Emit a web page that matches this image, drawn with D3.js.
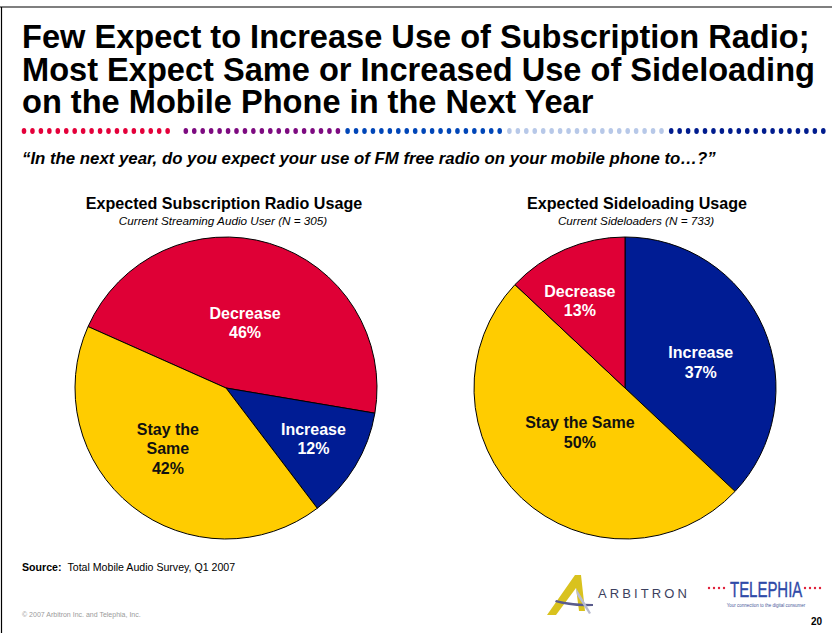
<!DOCTYPE html>
<html>
<head>
<meta charset="utf-8">
<script src="https://cdn.jsdelivr.net/npm/d3@7/dist/d3.min.js"></script>
<style>
  html, body { margin: 0; padding: 0; background: #fff; }
  svg { display: block; font-family: Arial, "Liberation Sans", Helvetica, sans-serif; }
</style>
</head>
<body>
<svg id="slide" width="832" height="633"></svg>
<script>
// ---- data ----
const categories = ["Decrease", "Increase", "Stay the Same"];
const subscriptionValues = [46, 12, 42];   // Current Streaming Audio User (N = 305)
const sideloadingValues = [13, 37, 50];    // Current Sideloaders (N = 733)

const titleLines = [
  "Few Expect to Increase Use of Subscription Radio;",
  "Most Expect Same or Increased Use of Sideloading",
  "on the Mobile Phone in the Next Year"
];
const question = "\u201CIn the next year, do you expect your use of FM free radio on your mobile phone to\u2026?\u201D";
const chartTitles = ["Expected Subscription Radio Usage", "Expected Sideloading Usage"];
const chartSubtitles = ["Current Streaming Audio User (N = 305)", "Current Sideloaders (N = 733)"];

// ---- styling / layout ----
const sliceColor = { "Decrease": "#DF0036", "Increase": "#001C94", "Stay the Same": "#FFCC00" };
const labelColor = { "Decrease": "#fff", "Increase": "#fff", "Stay the Same": "#111" };
const dotColors = ["#E4003A", "#7D0A80", "#0046B8", "#B7C8E8", "#001C8E"];

const pies = [
  {
    values: subscriptionValues, cx: 226, cy: 388, r: 151,
    order: ["Decrease", "Increase", "Stay the Same"], startDeg: -66,
    labelLines: { "Decrease": ["Decrease"], "Increase": ["Increase"], "Stay the Same": ["Stay the", "Same"] },
    labelPos: { "Decrease": { f: 0.45, da: -0.5 }, "Increase": { f: 0.67, da: -1 }, "Stay the Same": { f: 0.555, da: 5.5 } },
    titleX: 224
  },
  {
    values: sideloadingValues, cx: 625, cy: 388, r: 151,
    order: ["Increase", "Stay the Same", "Decrease"], startDeg: 0,
    labelLines: { "Decrease": ["Decrease"], "Increase": ["Increase"], "Stay the Same": ["Stay the Same"] },
    labelPos: { "Decrease": { f: 0.65, da: -4 }, "Increase": { f: 0.53, da: 4.7 }, "Stay the Same": { f: 0.42, da: 2.2 } },
    titleX: 637
  }
];

const svg = d3.select("#slide");
const rad = d => d * Math.PI / 180;

// slide frame
svg.append("line").attr("x1", 0).attr("x2", 832).attr("y1", 7).attr("y2", 7)
  .attr("stroke", "#000").attr("stroke-width", 1.2);
svg.append("line").attr("x1", 1.5).attr("x2", 1.5).attr("y1", 7).attr("y2", 633)
  .attr("stroke", "#000").attr("stroke-width", 1.2);

// headline
svg.append("g").selectAll("text").data(titleLines).join("text")
  .attr("x", 22).attr("y", (d, i) => 48 + i * 32.5)
  .attr("font-size", 32.6).attr("font-weight", "bold").attr("fill", "#000")
  .text(d => d);

// dotted divider, five coloured runs
const dotSegs = dotColors.map((c, i) => ({ color: c, x0: 24 + i * 161.8, x1: 24 + i * 161.8 + 152 }));
const dotG = svg.append("g");
dotSegs.forEach(s => {
  const xs = d3.range(s.x0, s.x1 + 0.1, 8.45);
  dotG.selectAll(null).data(xs).join("ellipse")
    .attr("cx", d => d).attr("cy", 131).attr("rx", 2.3).attr("ry", 2.9)
    .attr("fill", s.color);
});

// survey question
svg.append("text").attr("x", 22).attr("y", 164)
  .attr("font-size", 16.8).attr("font-weight", "bold").attr("font-style", "italic")
  .text(question);

// pies
pies.forEach((p, k) => {
  const rows = p.order.map(c => ({ cat: c, value: p.values[categories.indexOf(c)] }));
  const pie = d3.pie().value(d => d.value).sort(null)
    .startAngle(rad(p.startDeg)).endAngle(rad(p.startDeg) + 2 * Math.PI);
  const arc = d3.arc().innerRadius(0).outerRadius(p.r);
  const arcs = pie(rows);

  const g = svg.append("g").attr("transform", `translate(${p.cx},${p.cy})`);
  g.selectAll("path").data(arcs).join("path")
    .attr("d", arc)
    .attr("fill", d => sliceColor[d.data.cat])
    .attr("stroke", "#000").attr("stroke-width", 1);

  arcs.forEach(a => {
    const pos = p.labelPos[a.data.cat];
    const mid = (a.startAngle + a.endAngle) / 2 + rad(pos.da);
    const lx = Math.sin(mid) * p.r * pos.f;
    const ly = -Math.cos(mid) * p.r * pos.f;
    const lines = p.labelLines[a.data.cat].concat([a.data.value + "%"]);
    const t = g.append("text").attr("text-anchor", "middle")
      .attr("font-size", 16).attr("font-weight", "bold")
      .attr("fill", labelColor[a.data.cat]);
    lines.forEach((ln, i) => {
      t.append("tspan").attr("x", lx)
        .attr("y", ly + (i - (lines.length - 1) / 2) * 19.5 + 5.7)
        .text(ln);
    });
  });

  svg.append("text").attr("x", p.titleX).attr("y", 209).attr("text-anchor", "middle")
    .attr("font-size", 16.1).attr("font-weight", "bold").text(chartTitles[k]);
  svg.append("text").attr("x", p.titleX - 1).attr("y", 225).attr("text-anchor", "middle")
    .attr("font-size", 11.7).attr("font-style", "italic").text(chartSubtitles[k]);
});

// source + copyright
const src = svg.append("text").attr("x", 22).attr("y", 571).attr("font-size", 10.6);
src.append("tspan").attr("font-weight", "bold").text("Source:");
src.append("tspan").attr("dx", 6).text("Total Mobile Audio Survey,  Q1 2007");
svg.append("text").attr("x", 22).attr("y", 617).attr("font-size", 7).attr("fill", "#9a9a9a")
  .text("\u00A9 2007 Arbitron Inc. and Telephia, Inc.");

// page number
svg.append("text").attr("x", 822).attr("y", 625).attr("text-anchor", "end")
  .attr("font-size", 10).attr("font-weight", "bold").text("20");

// Arbitron mark + wordmark
const logo = svg.append("g");
logo.append("path").attr("d", "M547,615 L575,575 L581,575 L585,611 L579,611 L576,588 L556,615 Z").attr("fill", "#D9C21E");
logo.append("path").attr("d", "M556,600 Q572,604 593,604 L593,606 Q570,607 555,602 Z").attr("fill", "#5A5C8C");
logo.append("path").attr("d", "M576,588 L591,613 L589,614 L577,595 Z").attr("fill", "#B8BCD0");
logo.append("text").attr("x", 598).attr("y", 598).attr("font-size", 13)
  .attr("fill", "#3C3F5E").attr("letter-spacing", 3.1).text("ARBITRON");

// Telephia wordmark with its dotted lead-in and tail
const tDots = [709, 714, 719, 724, 805, 810, 815, 820];
logo.selectAll(null).data(tDots).join("circle")
  .attr("cx", d => d).attr("cy", 588).attr("r", 1.2).attr("fill", "#E0203A");
logo.append("g").attr("transform", "translate(730,597) scale(0.68,1)")
  .append("text").attr("x", 0).attr("y", 0).attr("font-size", 22)
  .attr("fill", "#2F4AA8").attr("stroke", "#2F4AA8").attr("stroke-width", 0.4)
  .text("TELEPHIA");
logo.append("text").attr("x", 766).attr("y", 607).attr("text-anchor", "middle").attr("font-size", 4.5)
  .attr("fill", "#4A5A9A").text("Your connection to the digital consumer");
</script>
</body>
</html>
